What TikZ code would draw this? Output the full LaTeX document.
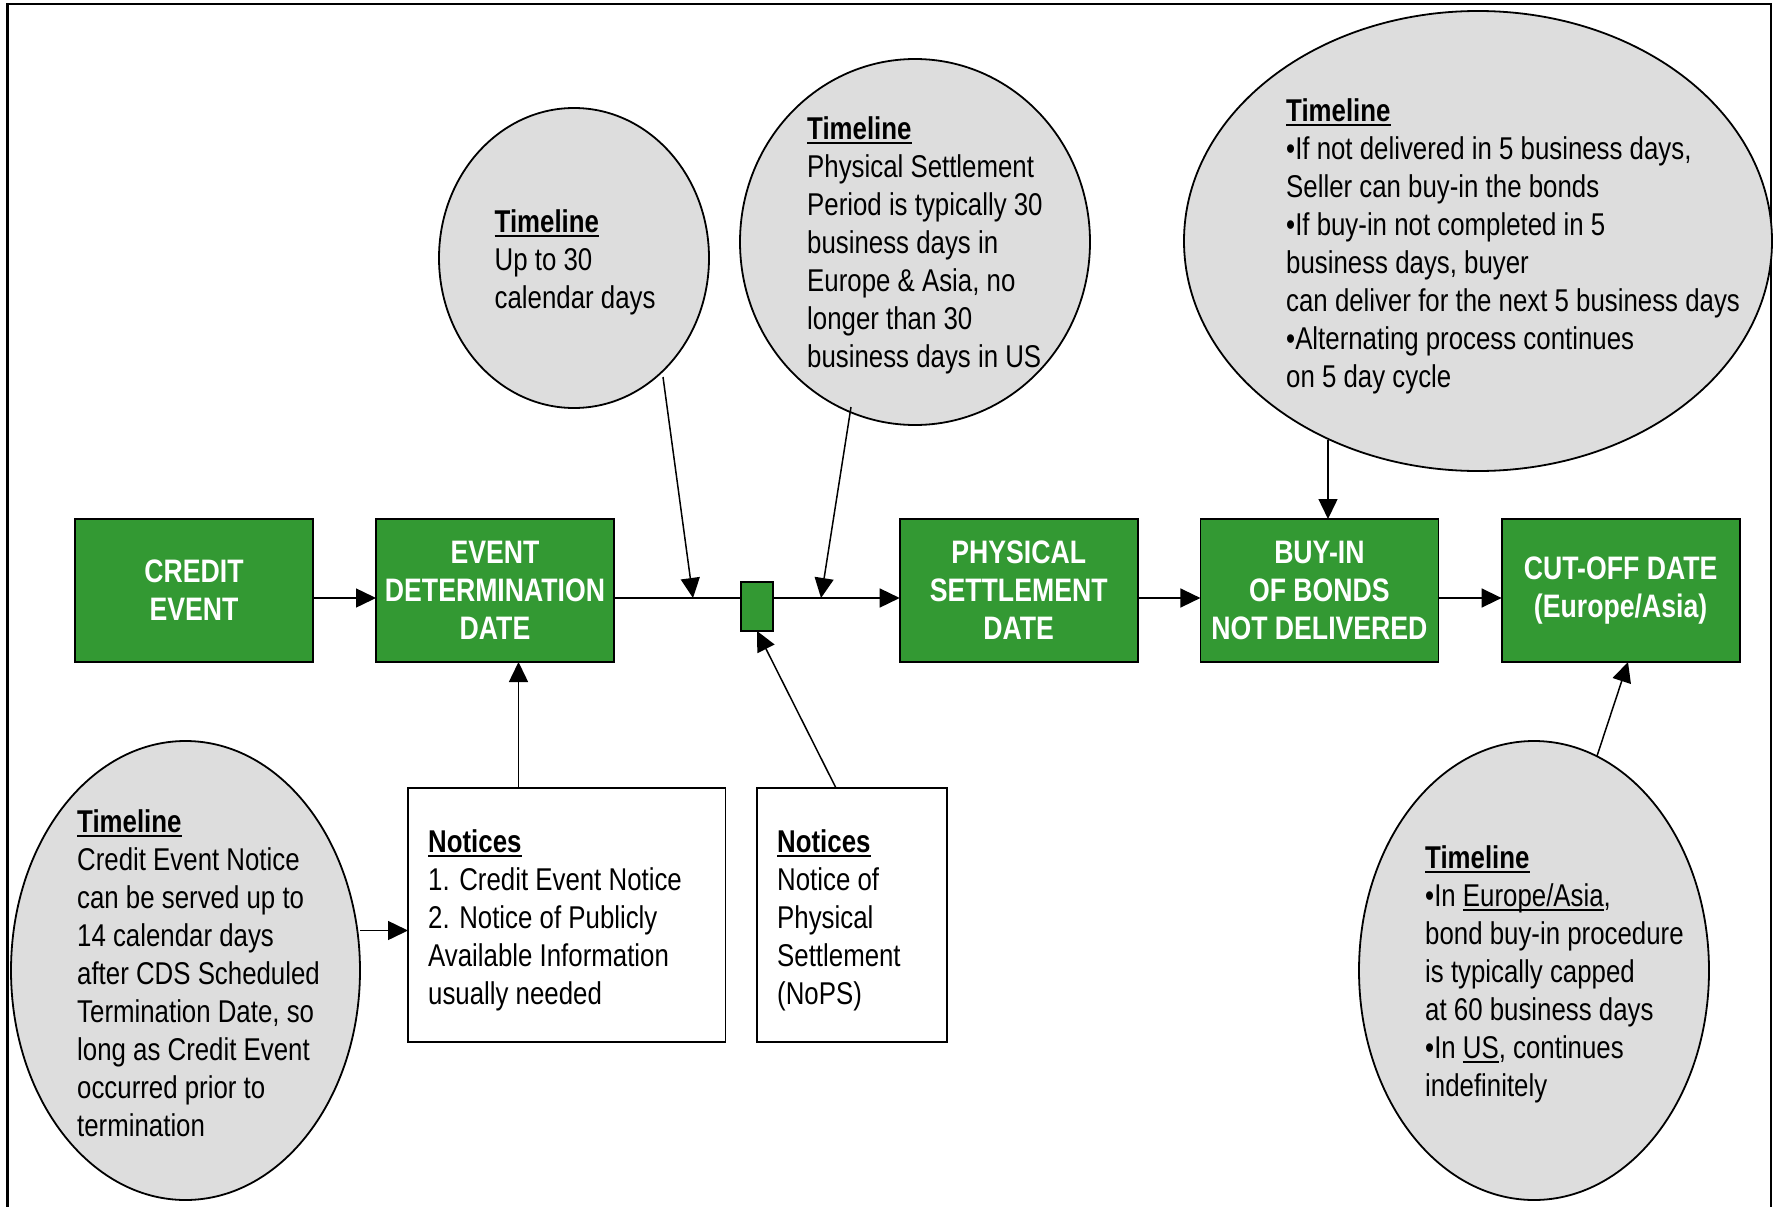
\documentclass[tikz,border=0pt]{standalone}
\usepackage{fontspec}
\IfFontExistsTF{Liberation Sans Narrow}{\setmainfont{Liberation Sans Narrow}}{\setmainfont{Liberation Sans}[FakeStretch=0.82]}
\usetikzlibrary{shapes.geometric,arrows.meta,calc}
\definecolor{boxgreen}{RGB}{51,153,51}
\definecolor{ellgrey}{RGB}{221,221,221}
\newcommand\ulin[1]{\setbox0=\hbox{#1}\rlap{\rule[-5pt]{\wd0}{2.3pt}}\box0}
\tikzset{
  gbox/.style={draw=black, line width=1.8pt, fill=boxgreen, text=white,
    font=\bfseries\fontsize{32.5}{38}\selectfont, align=center,
    minimum width=238pt, minimum height=143pt, inner sep=0pt, outer sep=0pt},
  nbox/.style={draw=black, line width=1.5pt, fill=white, minimum height=254pt,
    inner sep=0pt, outer sep=0pt},
  bubble/.style={ellipse, draw=black, line width=1.8pt, fill=ellgrey,
    inner sep=0pt, outer sep=0pt},
  txt/.style={anchor=north west, align=left, inner sep=0pt,
    font=\fontsize{31.5}{38}\selectfont},
  arr/.style={line width=1.5pt, -{Triangle[length=20pt,width=19pt]}},
}
\begin{document}
\begin{tikzpicture}[x=1pt,y=-1pt]
\useasboundingbox (0,0) rectangle (1775,1207);
% frame
\draw[line width=2.5pt] (7.5,1207) -- (7.5,4) -- (1771,4) -- (1771,1207);

% ellipses
\node[bubble, minimum width=270pt, minimum height=300pt] (e1) at (574,258) {};
\node[bubble, minimum width=350pt, minimum height=366pt] (e2) at (915,242) {};
\node[bubble, minimum width=588pt, minimum height=460pt] (e3) at (1478,241) {};
\node[bubble, minimum width=349pt, minimum height=459pt] (e5) at (185.5,970.5) {};
\node[bubble, minimum width=350pt, minimum height=459pt] (e4) at (1534,970.5) {};

% green boxes
\node[gbox] (credit) at (194,590.5) {CREDIT\\EVENT};
\node[gbox] (edd) at (495,590.5) {EVENT\\DETERMINATION\\DATE};
\node[gbox] (ps) at (1018.7,590.5) {PHYSICAL\\SETTLEMENT\\DATE};
\node[gbox] (buyin) at (1319.4,590.5) {BUY-IN\\OF BONDS\\NOT DELIVERED};
\node[gbox] (cutoff) at (1620.6,590.5) {CUT-OFF DATE\\(Europe/Asia)};

% notice boxes
\node[nbox, minimum width=317.6pt] (n1) at (566.8,915) {};
\node[nbox, minimum width=190pt] (n2) at (852,915) {};

% texts
\node[txt] (t1) at (494.5,209) {\ulin{\textbf{Timeline}}\\Up to 30\\calendar days};
\node[txt] (t2) at (807,116) {\ulin{\textbf{Timeline}}\\Physical Settlement\\Period is typically 30\\business days in\\Europe \& Asia, no\\longer than 30\\business days in US};
\node[txt] (t3) at (1286,98) {\ulin{\textbf{Timeline}}\\•If not delivered in 5 business days,\\Seller can buy-in the bonds\\•If buy-in not completed in 5\\business days, buyer\\can deliver for the next 5 business days\\•Alternating process continues\\on 5 day cycle};
\node[txt] (t5) at (77,809) {\ulin{\textbf{Timeline}}\\Credit Event Notice\\can be served up to\\14 calendar days\\after CDS Scheduled\\Termination Date, so\\long as Credit Event\\occurred prior to\\termination};
\node[txt] (t4) at (1425,845) {\ulin{\textbf{Timeline}}\\•In \ulin{Europe/Asia},\\bond buy-in procedure\\is typically capped\\at 60 business days\\•In \ulin{US}, continues\\indefinitely};
\node[txt] (tn1) at (428,829) {\ulin{\textbf{Notices}}\\1. Credit Event Notice\\2. Notice of Publicly\\Available Information\\usually needed};
\node[txt] (tn2) at (777,829) {\ulin{\textbf{Notices}}\\Notice of\\Physical\\Settlement\\(NoPS)};

% helper coordinates
\coordinate (m) at (0,598);
\coordinate (a1s) at (663,377);
\coordinate (a1e) at (693,598);
\coordinate (a2s) at (851,407);
\coordinate (a2e) at (821,598);
\coordinate (a3s) at (1328,440);
\coordinate (a4s) at (1597,756);
\coordinate (a4e) at (1628,662);
\coordinate (a6s) at (836,788);
\coordinate (a7) at (518.5,0);
\coordinate (a8) at (0,930.5);

% main line
\draw[arr] (credit.east |- m) -- (edd.west |- m);
\draw[arr] (edd.east |- m) -- (ps.west |- m);
\draw[arr] (ps.east |- m) -- (buyin.west |- m);
\draw[arr] (buyin.east |- m) -- (cutoff.west |- m);

% small square on the line
\node[draw=black, line width=1.8pt, fill=boxgreen, minimum width=32.6pt,
  minimum height=49pt, inner sep=0pt, outer sep=0pt] (sq) at (757,606.5) {};

% other connectors
\draw[arr] (a1s) -- (a1e);
\draw[arr] (a2s) -- (a2e);
\draw[arr] (a3s) -- (buyin.north -| a3s);
\draw[arr] (a4s) -- (a4e);
\draw[arr] (a6s) -- (sq.south);
\draw[arr] (n1.north -| a7) -- (edd.south -| a7);
\draw[arr] (e5.east |- a8) -- (n1.west |- a8);
\end{tikzpicture}
\end{document}
